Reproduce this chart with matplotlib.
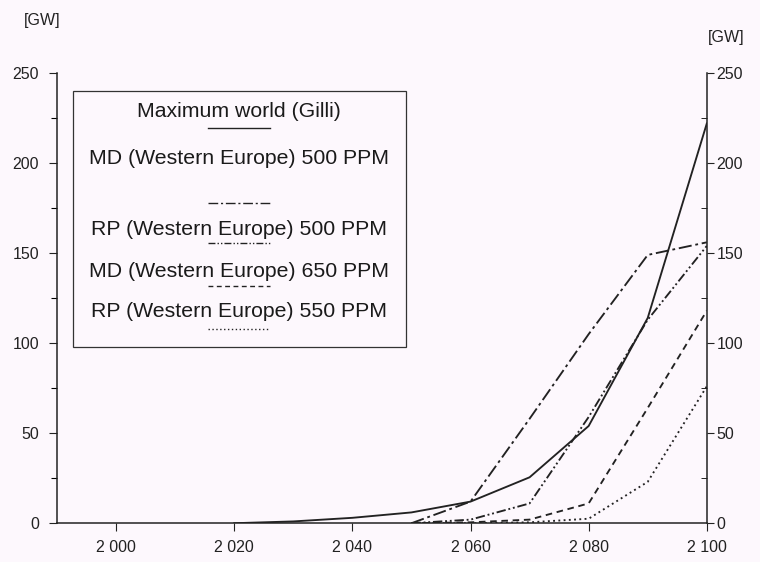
import matplotlib.pyplot as plt
from matplotlib.patches import Rectangle

plt.rcParams['font.family'] = ['Liberation Sans', 'DejaVu Sans']

# data (GW per year)
years_gilli = [2020, 2030, 2040, 2050, 2060, 2070, 2080, 2090, 2100]
gilli = [0, 1, 3, 6, 12, 25.5, 54, 114, 222]

years = [2050, 2060, 2070, 2080, 2090, 2100]
md_500 = [0, 12, 58, 105, 149, 156]
rp_500 = [0, 2, 11, 59, 113, 154]
md_650 = [0, 0.5, 2, 11, 64, 118]
rp_550 = [0, 0, 0.5, 2.5, 23, 76]

labels = ["Maximum world (Gilli)", "MD (Western Europe) 500 PPM",
          "RP (Western Europe) 500 PPM", "MD (Western Europe) 650 PPM",
          "RP (Western Europe) 550 PPM"]

bg = '#fdf8fd'
ink = '#222222'
fig = plt.figure(figsize=(7.6, 5.62), dpi=100, facecolor=bg)
ax = fig.add_axes([0.075, 0.069, 0.855, 0.801])
ax.set_facecolor(bg)

styles = ['-', (0, (7, 2, 1.5, 2)), (0, (5, 1.5, 1, 1.5, 1, 1.5)),
          (0, (3.5, 2.5)), (0, (1, 1.8))]
series = [(years_gilli, gilli), (years, md_500), (years, rp_500),
          (years, md_650), (years, rp_550)]
for (x, y), ls in zip(series, styles):
    ax.plot(x, y, color=ink, lw=1.35, linestyle=ls)

ax.set_xlim(1990, 2100)
ax.set_ylim(0, 250)
ax.spines['top'].set_visible(False)
ax.spines['right'].set_visible(False)
for s in ['left', 'bottom']:
    ax.spines[s].set_color(ink)
    ax.spines[s].set_linewidth(1.1)

ax.set_xticks(range(2000, 2101, 20))
ax.set_xticklabels([f"{v // 1000} {v % 1000:03d}" for v in range(2000, 2101, 20)])
ax.set_yticks(range(0, 251, 50))
ax.set_yticks(range(25, 250, 50), minor=True)
ax.tick_params(axis='both', colors=ink, labelsize=11.5, length=6, width=0.8)
ax.tick_params(axis='y', pad=7)
ax.tick_params(axis='y', which='minor', length=4, width=0.8)
ax.tick_params(axis='x', pad=6)

# right hand scale
ax2 = ax.twinx()
ax2.set_ylim(0, 250)
for s in ['top', 'left', 'bottom']:
    ax2.spines[s].set_visible(False)
ax2.spines['right'].set_color(ink)
ax2.spines['right'].set_linewidth(1.1)
ax2.set_yticks(range(0, 251, 50))
ax2.set_yticks(range(25, 250, 50), minor=True)
ax2.tick_params(axis='y', colors=ink, labelsize=11.5, length=5, width=0.8, pad=2)
ax2.tick_params(axis='y', which='minor', direction='in', length=4)

fig.text(0.032, 0.955, "[GW]", fontsize=11.5, color=ink)
fig.text(0.932, 0.925, "[GW]", fontsize=11.5, color=ink)

# hand-made legend box
ax.add_patch(Rectangle((1992.7, 98), 56.3, 142, fill=False, lw=0.9,
                       edgecolor='#333333', zorder=3))
text_y = [228.5, 202.5, 163, 140, 117.5]
line_y = [219.5, 178, 155.5, 131.5, 108]
cx = 2020.8
for lab, ty, ly, ls in zip(labels, text_y, line_y, styles):
    ax.text(cx, ty, lab, ha='center', va='center', fontsize=15.3, color='#1a1a1a')
    ax.plot([cx - 5.3, cx + 5.3], [ly, ly], color=ink, lw=1.0, linestyle=ls)

fig.savefig("out.png", dpi=100, facecolor=bg)
